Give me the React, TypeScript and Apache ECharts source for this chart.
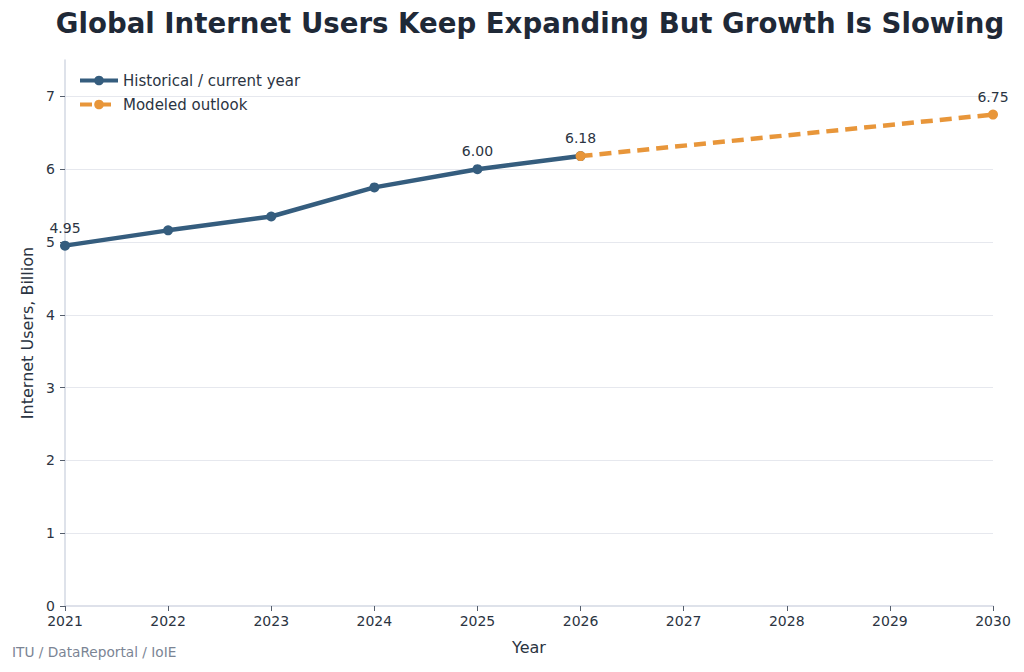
import React, { useEffect, useRef } from "react";
import * as echarts from "echarts";

const TITLE = "Global Internet Users Keep Expanding But Growth Is Slowing";
const SOURCE = "ITU / DataReportal / IoIE";
const historicalYears = [2021, 2022, 2023, 2024, 2025, 2026];
const historicalValues = [4.95, 5.16, 5.35, 5.75, 6.0, 6.18];
const outlookYears = [2026, 2030];
const outlookValues = [6.18, 6.75];
const labeledYears = [2021, 2025, 2026, 2030];
const yTicks = [1, 2, 3, 4, 5, 6, 7];

const FONT = "DejaVu Sans";
const BLUE = "#355d7e";
const ORANGE = "#e8963a";
const TEXT = "#2b3442";

export default function App() {
  const ref = useRef<HTMLDivElement>(null);
  useEffect(() => {
    if (!ref.current) return;
    const chart = echarts.init(ref.current, undefined, { renderer: "svg" });
    const mk = (years: number[], vals: number[], showLabelOn: (y: number) => boolean) =>
      years.map((y, i) => ({
        value: [y, vals[i]],
        label: { show: showLabelOn(y) },
      }));
    chart.setOption({
      animation: false,
      textStyle: { fontFamily: FONT },
      title: {
        text: TITLE,
        left: 525,
        textAlign: "center",
        top: 4,
        textStyle: { fontFamily: FONT, fontWeight: "bold", fontSize: 27.6, color: "#1f2937" },
      },
      graphic: [
        {
          type: "text",
          left: 12,
          top: 645,
          style: { text: SOURCE, fontFamily: FONT, fontSize: 13.7, fill: "#7b8494" },
        },
      ],
      legend: {
        left: 73,
        top: 68,
        orient: "vertical",
        itemWidth: 38,
        itemHeight: 12,
        itemGap: 9,
        lineStyle: { width: 4 },
        textStyle: { fontFamily: FONT, fontSize: 15, color: TEXT },
        data: ["Historical / current year", "Modeled outlook"],
      },
      grid: { left: 65, right: 31, top: 60, bottom: 66, containLabel: false },
      xAxis: {
        type: "value",
        min: 2021,
        max: 2030,
        interval: 1,
        name: "Year",
        nameLocation: "middle",
        nameGap: 33,
        nameTextStyle: { fontFamily: FONT, fontSize: 16, color: TEXT },
        axisLine: { lineStyle: { color: "#d3d8e3", width: 1.5 } },
        axisTick: { show: true, length: 5, lineStyle: { color: "#555e6c" } },
        axisLabel: { fontFamily: FONT, fontSize: 14, color: TEXT, margin: 8, formatter: (v: number) => String(v) },
        splitLine: { show: false },
      },
      yAxis: {
        type: "value",
        min: 0,
        max: 7.5,
        interval: 1,
        name: "Internet Users, Billion",
        nameLocation: "middle",
        nameGap: 30,
        nameTextStyle: { fontFamily: FONT, fontSize: 16, color: TEXT },
        axisLine: { show: true, lineStyle: { color: "#d3d8e3", width: 1.5 } },
        axisTick: { show: true, length: 5, lineStyle: { color: "#555e6c" }, customValues: [0, ...yTicks] },
        axisLabel: {
          fontFamily: FONT,
          fontSize: 14,
          color: TEXT,
          margin: 10,
          customValues: [0, ...yTicks],
          formatter: (v: number) => (Number.isInteger(v) ? String(v) : ""),
        },
        splitLine: { show: false },
      },
      series: [
        {
          name: "Historical / current year",
          type: "line",
          data: mk(historicalYears, historicalValues, (y) => labeledYears.includes(y) && y !== 2026),
          lineStyle: { color: BLUE, width: 4.5 },
          itemStyle: { color: BLUE },
          symbol: "circle",
          symbolSize: 10,
          label: {
            position: "top",
            distance: 6,
            fontFamily: FONT,
            fontSize: 14,
            color: TEXT,
            formatter: (p: any) => p.value[1].toFixed(2),
          },
          markLine: {
            silent: true,
            symbol: "none",
            label: { show: false },
            lineStyle: { color: "#e6e8ee", width: 1, type: "solid" },
            data: yTicks.map((t) => ({ yAxis: t })),
            z: 0,
          },
          z: 3,
        },
        {
          name: "Modeled outlook",
          type: "line",
          data: mk(outlookYears, outlookValues, (y) => labeledYears.includes(y)),
          lineStyle: { color: ORANGE, width: 4.5, type: [12, 7] },
          itemStyle: { color: ORANGE },
          symbol: "circle",
          symbolSize: 10,
          label: {
            position: "top",
            distance: 6,
            fontFamily: FONT,
            fontSize: 14,
            color: TEXT,
            formatter: (p: any) => p.value[1].toFixed(2),
          },
          z: 4,
        },
      ],
    });
    return () => chart.dispose();
  }, []);
  return <div ref={ref} style={{ width: 1024, height: 672, margin: -8 }} />;
}
